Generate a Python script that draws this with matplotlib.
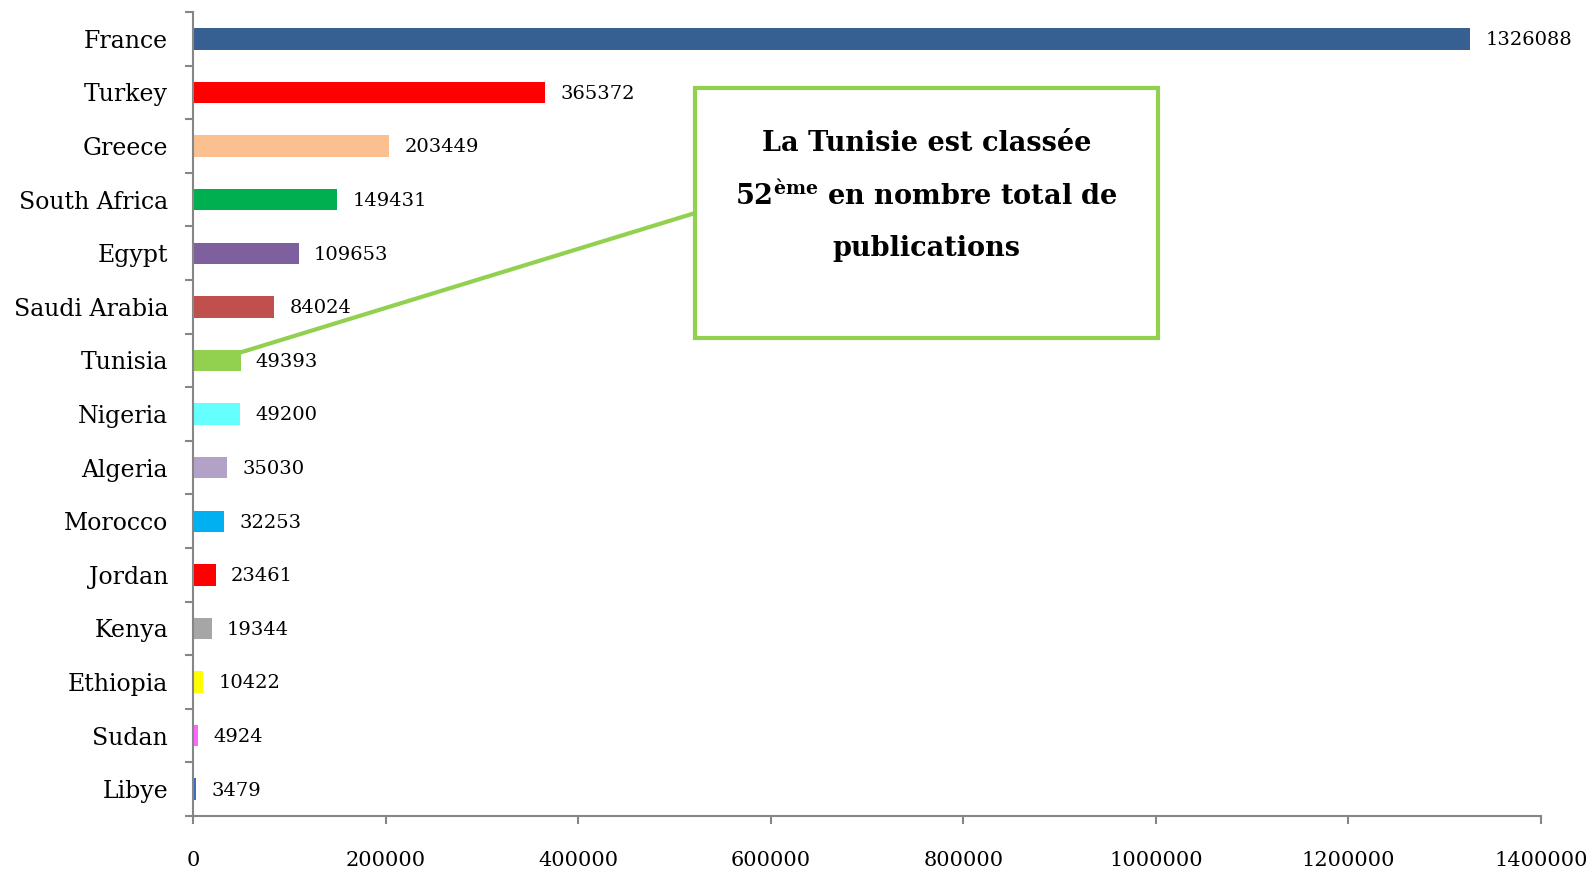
import matplotlib
matplotlib.use('Agg')
import matplotlib.pyplot as plt
from matplotlib.patches import Rectangle
from matplotlib.ticker import FixedLocator

plt.rcParams['font.family'] = ['DejaVu Serif']
plt.rcParams['mathtext.fontset'] = 'dejavuserif'

countries = ['France', 'Turkey', 'Greece', 'South Africa', 'Egypt', 'Saudi Arabia',
             'Tunisia', 'Nigeria', 'Algeria', 'Morocco', 'Jordan', 'Kenya',
             'Ethiopia', 'Sudan', 'Libye']
publications = [1326088, 365372, 203449, 149431, 109653, 84024,
                49393, 49200, 35030, 32253, 23461, 19344,
                10422, 4924, 3479]
colors = ['#376092', '#FF0000', '#FAC090', '#00B050', '#7F609F', '#C0504D',
          '#92D050', '#66FFFF', '#B3A2C7', '#00B0F0', '#FF0000', '#A6A6A6',
          '#FFFF00', '#FF66FF', '#3A6BC9']
x_ticks = [0, 200000, 400000, 600000, 800000, 1000000, 1200000, 1400000]

axis_grey = '#868686'
green = '#92D050'

fig = plt.figure(figsize=(15.93, 8.72), dpi=100)
ax = fig.add_axes([0.1212, 0.0642, 0.8462, 0.9220])

pos = list(range(len(countries)))
ax.barh(pos, publications, height=0.4, color=colors)
for y, v in zip(pos, publications):
    ax.annotate(str(v), xy=(v, y), xytext=(11, -1), textcoords='offset points',
                va='center', ha='left', fontsize=14)

ax.set_xlim(0, 1400000)
ax.set_ylim(len(countries) - 0.5, -0.5)

ax.set_yticks(pos)
ax.set_yticklabels(countries, fontsize=17)
ax.yaxis.set_minor_locator(FixedLocator([p - 0.5 for p in pos] + [len(pos) - 0.5]))
ax.tick_params(axis='y', which='major', length=0, pad=18)
ax.tick_params(axis='y', which='minor', length=6, width=1.5, color=axis_grey, direction='out')

ax.set_xticks(x_ticks)
ax.set_xticklabels([str(t) for t in x_ticks], fontsize=15)
ax.tick_params(axis='x', length=6, width=1.5, color=axis_grey, direction='out', pad=19)

for side in ['top', 'right']:
    ax.spines[side].set_visible(False)
for side in ['left', 'bottom']:
    ax.spines[side].set_color(axis_grey)
    ax.spines[side].set_linewidth(1.5)

# callout box
box = Rectangle((0.3724, 0.5945), 0.3435, 0.311, transform=ax.transAxes,
                fill=False, edgecolor=green, linewidth=3, clip_on=False, zorder=5)
ax.add_patch(box)
ax.annotate('', xy=(44000, 5.88), xycoords='data',
            xytext=(0.3724, 0.75), textcoords='axes fraction',
            arrowprops=dict(arrowstyle='-', color=green, lw=3, shrinkA=0, shrinkB=0))

cx = 0.544
ax.text(cx, 0.837, 'La Tunisie est classée', transform=ax.transAxes,
        ha='center', va='center', fontsize=19.5, fontweight='bold')
ax.text(cx, 0.772, r'52$^{\mathbf{ème}}$ en nombre total de', transform=ax.transAxes,
        ha='center', va='center', fontsize=19.5, fontweight='bold')
ax.text(cx, 0.706, 'publications', transform=ax.transAxes,
        ha='center', va='center', fontsize=19.5, fontweight='bold')

fig.savefig('out.png', dpi=100)
